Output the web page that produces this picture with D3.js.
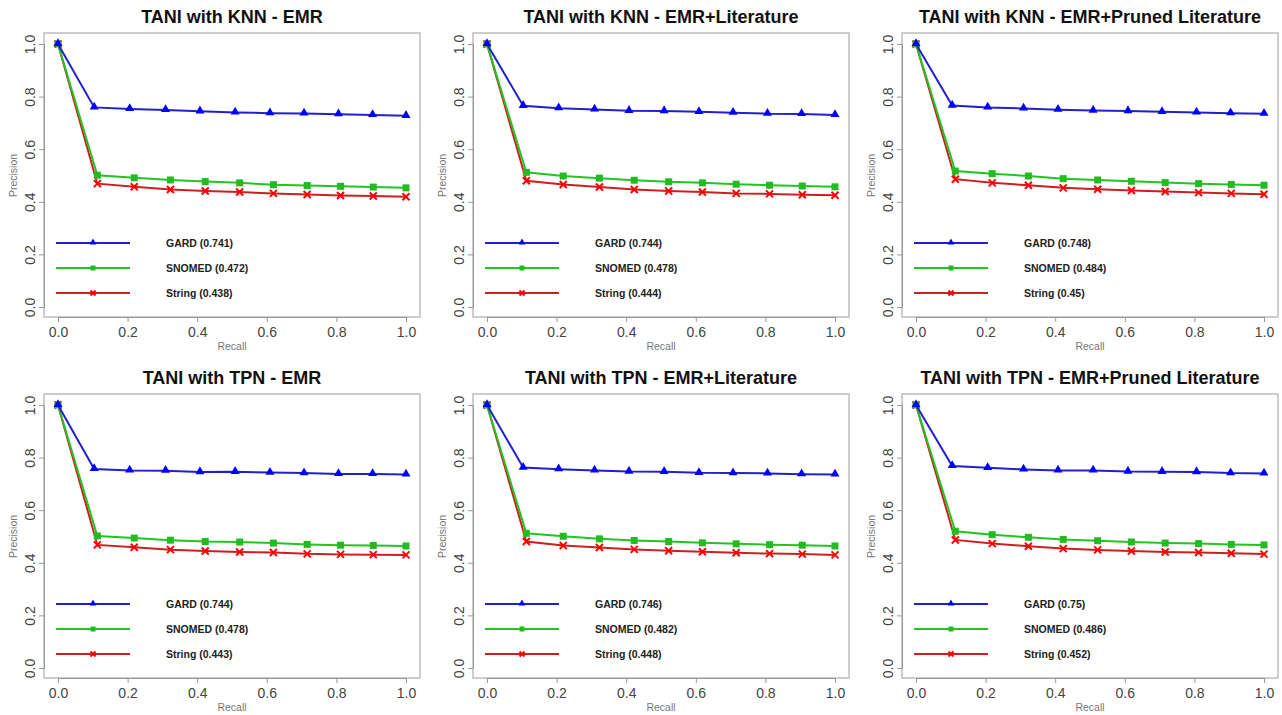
<!DOCTYPE html>
<html>
<head>
<meta charset="utf-8">
<script src="https://cdn.jsdelivr.net/npm/d3@7"></script>
<style>
  body { margin: 0; background: #fff; }
  svg { display: block; font-family: "Liberation Sans", Arial, sans-serif; }
  .axis text { fill: #444; font-size: 14px; }
  .axis line, .axis path { stroke: #999; }
</style>
</head>
<body>
<div id="container"></div>
<script>
// ---------------- data ----------------
var titles = [
  "TANI with KNN - EMR", "TANI with KNN - EMR+Literature", "TANI with KNN - EMR+Pruned Literature",
  "TANI with TPN - EMR", "TANI with TPN - EMR+Literature", "TANI with TPN - EMR+Pruned Literature"
];
var seriesNames = ["GARD", "SNOMED", "String"];
var xTicks = [0, 0.2, 0.4, 0.6, 0.8, 1.0];
var yTicks = [0, 0.2, 0.4, 0.6, 0.8, 1.0];

// recall positions of the points (GARD sits a bit left of the others)
var recallGard  = [0, 0.104, 0.206, 0.309, 0.408, 0.509, 0.609, 0.707, 0.806, 0.904, 1.0];
var recallOther = [0, 0.113, 0.219, 0.323, 0.423, 0.522, 0.619, 0.716, 0.812, 0.906, 1.0];

// precision, one array per panel and series
var gardKnnEmr      = [1, 0.759, 0.753, 0.749, 0.744, 0.740, 0.737, 0.736, 0.733, 0.730, 0.727];
var snomedKnnEmr    = [1, 0.501, 0.491, 0.483, 0.477, 0.472, 0.465, 0.462, 0.459, 0.456, 0.453];
var stringKnnEmr    = [1, 0.469, 0.457, 0.447, 0.441, 0.437, 0.432, 0.428, 0.424, 0.422, 0.419];

var gardKnnLit      = [1, 0.765, 0.756, 0.751, 0.746, 0.745, 0.742, 0.739, 0.735, 0.734, 0.730];
var snomedKnnLit    = [1, 0.512, 0.498, 0.490, 0.482, 0.476, 0.472, 0.467, 0.463, 0.460, 0.457];
var stringKnnLit    = [1, 0.480, 0.466, 0.456, 0.447, 0.441, 0.437, 0.432, 0.430, 0.427, 0.425];

var gardKnnPruned   = [1, 0.766, 0.759, 0.755, 0.750, 0.747, 0.745, 0.742, 0.740, 0.737, 0.735];
var snomedKnnPruned = [1, 0.517, 0.507, 0.498, 0.488, 0.483, 0.478, 0.473, 0.469, 0.466, 0.463];
var stringKnnPruned = [1, 0.486, 0.472, 0.463, 0.453, 0.448, 0.443, 0.439, 0.435, 0.432, 0.429];

var gardTpnEmr      = [1, 0.757, 0.751, 0.750, 0.745, 0.746, 0.743, 0.741, 0.738, 0.738, 0.736];
var snomedTpnEmr    = [1, 0.502, 0.494, 0.486, 0.481, 0.479, 0.475, 0.470, 0.467, 0.466, 0.464];
var stringTpnEmr    = [1, 0.468, 0.459, 0.450, 0.445, 0.441, 0.439, 0.434, 0.432, 0.431, 0.430];

var gardTpnLit      = [1, 0.762, 0.756, 0.751, 0.747, 0.746, 0.742, 0.741, 0.740, 0.737, 0.736];
var snomedTpnLit    = [1, 0.512, 0.501, 0.491, 0.485, 0.481, 0.476, 0.472, 0.469, 0.467, 0.464];
var stringTpnLit    = [1, 0.481, 0.466, 0.458, 0.451, 0.446, 0.442, 0.438, 0.435, 0.433, 0.430];

var gardTpnPruned   = [1, 0.768, 0.761, 0.755, 0.751, 0.751, 0.747, 0.746, 0.745, 0.741, 0.740];
var snomedTpnPruned = [1, 0.520, 0.507, 0.497, 0.489, 0.484, 0.479, 0.475, 0.473, 0.470, 0.468];
var stringTpnPruned = [1, 0.487, 0.473, 0.463, 0.454, 0.449, 0.445, 0.441, 0.439, 0.436, 0.433];

// mean precision shown in the legends
var gardScores   = ["0.741", "0.744", "0.748", "0.744", "0.746", "0.75"];
var snomedScores = ["0.472", "0.478", "0.484", "0.478", "0.482", "0.486"];
var stringScores = ["0.438", "0.444", "0.45", "0.443", "0.448", "0.452"];

var gardAll   = [gardKnnEmr, gardKnnLit, gardKnnPruned, gardTpnEmr, gardTpnLit, gardTpnPruned];
var snomedAll = [snomedKnnEmr, snomedKnnLit, snomedKnnPruned, snomedTpnEmr, snomedTpnLit, snomedTpnPruned];
var stringAll = [stringKnnEmr, stringKnnLit, stringKnnPruned, stringTpnEmr, stringTpnLit, stringTpnPruned];

//------------------------ layout ------------------------//
const width = 1282;
const height = 715;
const colStep = 429;
const rowStep = 361;
const box = {left: 44, right: 420, top: 33, bottom: 317};

const lineColor = {GARD: "#2020cc", SNOMED: "#22c422", String: "#cc2020"};
const markColor = {GARD: "#0000ff", SNOMED: "#22bb22", String: "#ff0000"};

const svg = d3.select("div#container").append("svg")
    .attr("width", width)
    .attr("height", height);

const xScale = d3.scaleLinear().domain([0, 1]).range([58, 406]);
const yScale = d3.scaleLinear().domain([0, 1]).range([307, 44]);

const line = d3.line()
    .x(function(d) { return xScale(d.x); })
    .y(function(d) { return yScale(d.y); });

function zip(xs, ys) {
  return ys.map(function(v, i) { return {x: xs[i], y: v}; });
}

function drawMarker(g, name, cx, cy, s) {
  if (name === "GARD") {
    g.append("path")
      .attr("d", d3.symbol().type(d3.symbolTriangle).size(s * s * 0.55)())
      .attr("transform", "translate(" + cx + "," + (cy - 0.5) + ")")
      .attr("fill", markColor.GARD);
  } else if (name === "SNOMED") {
    g.append("rect")
      .attr("x", cx - s / 2 + 0.5).attr("y", cy - s / 2 + 0.5)
      .attr("width", s - 1).attr("height", s - 1)
      .attr("fill", markColor.SNOMED);
  } else {
    var h = s / 2 - 0.5;
    g.append("path")
      .attr("d", "M" + (cx - h) + "," + (cy - h) + "L" + (cx + h) + "," + (cy + h) +
                 "M" + (cx - h) + "," + (cy + h) + "L" + (cx + h) + "," + (cy - h))
      .attr("stroke", markColor.String)
      .attr("stroke-width", 2)
      .attr("fill", "none");
  }
}

//------------------------ panels ------------------------//
titles.forEach(function(title, p) {
  const col = p % 3, row = Math.floor(p / 3);
  const g = svg.append("g")
      .attr("transform", "translate(" + (col * colStep) + "," + (row * rowStep) + ")");

  g.append("text")
    .attr("x", (box.left + box.right) / 2)
    .attr("y", 23)
    .attr("text-anchor", "middle")
    .style("font-size", "18px")
    .style("font-weight", "bold")
    .style("fill", "#111")
    .text(title);

  // box
  g.append("rect")
    .attr("x", box.left).attr("y", box.top)
    .attr("width", box.right - box.left).attr("height", box.bottom - box.top)
    .attr("fill", "none")
    .attr("stroke", "#bdbdbd")
    .attr("stroke-width", 1.5);

  // axes
  g.append("g")
    .attr("class", "axis")
    .attr("transform", "translate(0," + box.bottom + ")")
    .call(d3.axisBottom(xScale).tickValues(xTicks).tickFormat(d3.format(".1f"))
          .tickSize(5).tickSizeOuter(0).tickPadding(5));

  const ya = g.append("g")
    .attr("class", "axis")
    .attr("transform", "translate(" + box.left + ",0)")
    .call(d3.axisLeft(yScale).tickValues(yTicks).tickFormat(d3.format(".1f"))
          .tickSize(5).tickSizeOuter(0));
  ya.selectAll(".tick text")
    .attr("x", 0).attr("dy", null)
    .attr("text-anchor", "middle")
    .attr("dominant-baseline", "central")
    .attr("transform", "translate(-14,0) rotate(-90)");
  g.selectAll(".axis path.domain").attr("stroke", "#bdbdbd");

  // axis titles
  g.append("text")
    .attr("x", (box.left + box.right) / 2).attr("y", 350)
    .attr("text-anchor", "middle")
    .style("font-size", "10.5px").style("fill", "#777")
    .text("Recall");
  g.append("text")
    .attr("transform", "translate(17," + yScale(0.5) + ") rotate(-90)")
    .attr("text-anchor", "middle")
    .style("font-size", "10.5px").style("fill", "#777")
    .text("Precision");

  const series = [
    {name: "String", values: zip(recallOther, stringAll[p])},
    {name: "SNOMED", values: zip(recallOther, snomedAll[p])},
    {name: "GARD",   values: zip(recallGard, gardAll[p])}
  ];

  series.forEach(function(s) {
    const sg = g.append("g");
    sg.append("path")
      .attr("d", line(s.values))
      .attr("fill", "none")
      .attr("stroke", lineColor[s.name])
      .attr("stroke-width", 2);
    s.values.forEach(function(d) {
      drawMarker(sg, s.name, xScale(d.x), yScale(d.y), 8);
    });
  });

  // legend
  const scores = {GARD: gardScores[p], SNOMED: snomedScores[p], String: stringScores[p]};
  seriesNames.forEach(function(name, i) {
    const ly = 243 + i * 25;
    g.append("line")
      .attr("x1", 56).attr("x2", 130)
      .attr("y1", ly).attr("y2", ly)
      .attr("stroke", lineColor[name])
      .attr("stroke-width", 2);
    drawMarker(g, name, 93, ly, 6);
    g.append("text")
      .attr("x", 166).attr("y", ly)
      .attr("dominant-baseline", "central")
      .style("font-size", "10.5px").style("font-weight", "bold").style("fill", "#222")
      .text(name + " (" + scores[name] + ")");
  });
});
</script>
</body>
</html>
